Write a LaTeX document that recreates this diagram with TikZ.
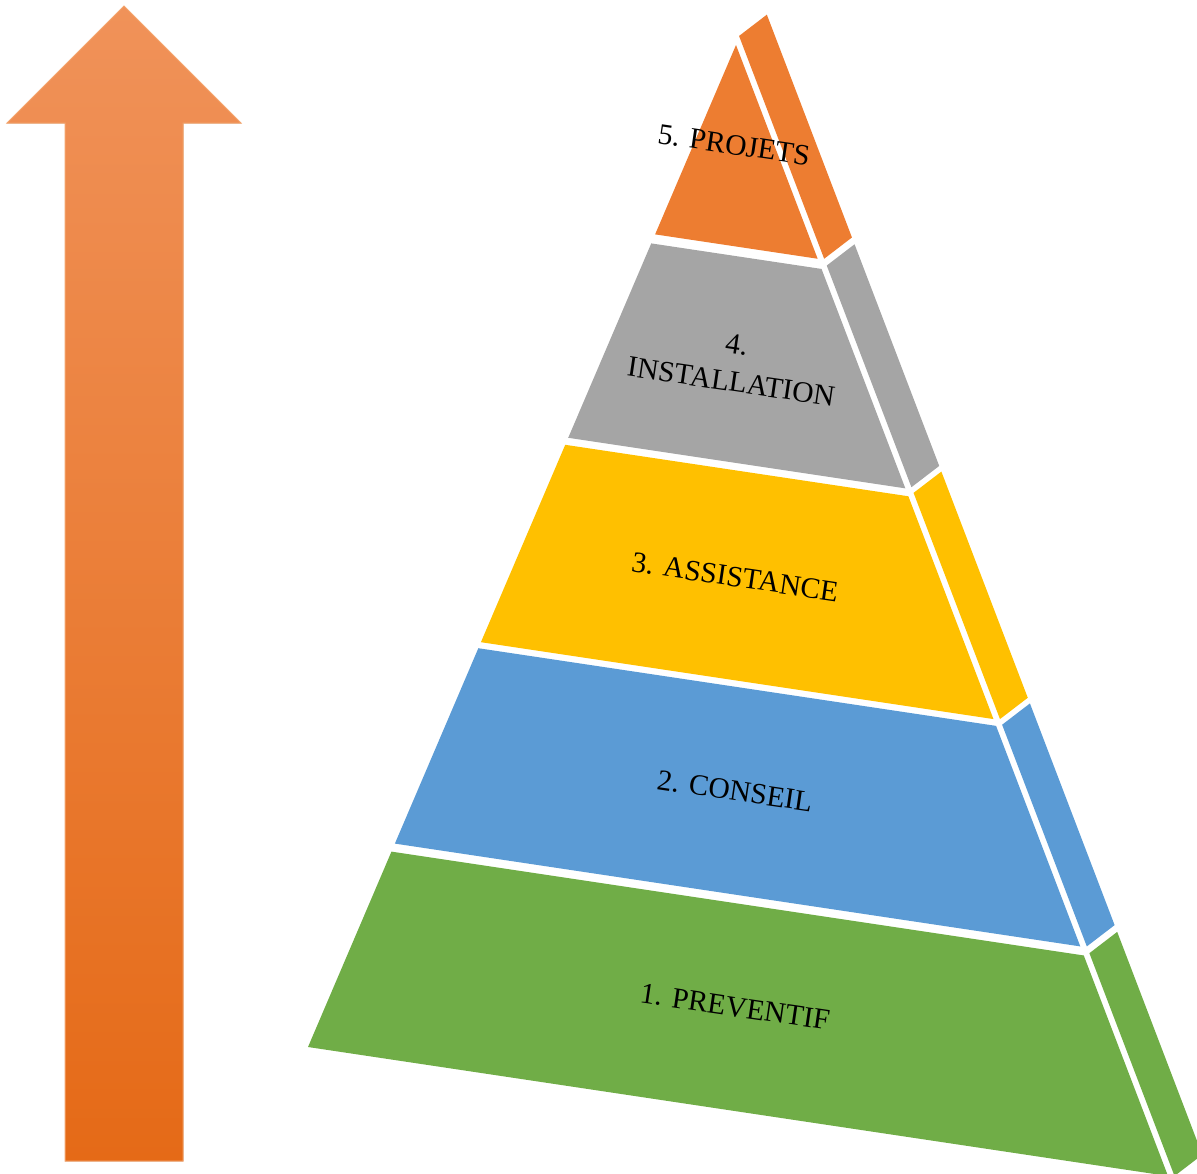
\documentclass[tikz,border=0pt]{standalone}
\usepackage{fontspec}
\usetikzlibrary{calc}
\newfontfamily\lblfont{Liberation Serif}
\definecolor{cOrange}{HTML}{ED7D31}
\definecolor{cGray}{HTML}{A5A5A5}
\definecolor{cYellow}{HTML}{FFC000}
\definecolor{cBlue}{HTML}{5B9BD5}
\definecolor{cGreen}{HTML}{70AD47}
\definecolor{arTop}{HTML}{F09259}
\definecolor{arBot}{HTML}{E56A17}
\definecolor{arEdge}{HTML}{F4A46C}
\tikzset{
  lbl/.style={font=\lblfont\fontsize{29.5}{38}\selectfont, text=black, rotate=-8.4, align=center, inner sep=0pt},
}
\begin{document}
\begin{tikzpicture}[x=1pt,y=-1pt]
\useasboundingbox (0,0) rectangle (1197,1173);
\clip (0,0) rectangle (1197,1173);
% arrow
\fill[top color=arTop, bottom color=arBot, draw=arEdge, line width=1pt]
  (124,6) -- (241,123) -- (183,123) -- (183,1161) -- (65,1161) -- (65,123) -- (7,123) -- cycle;
% pyramid geometry
\coordinate (A) at (736,45);
\coordinate (L) at (308,1047);
\coordinate (R) at (1168,1176);
\coordinate (g) at (6.5,0);
\coordinate (D) at (34.3,-21.3);
% front layers
\foreach \ta/\tb/\col in {0/0.189/cOrange, 0.198/0.392/cGray, 0.399/0.596/cYellow, 0.602/0.797/cBlue, 0.805/1/cGreen}{
  \fill[\col] ($(A)!\ta!(L)$) -- ($(A)!\ta!(R)$) -- ($(A)!\tb!(R)$) -- ($(A)!\tb!(L)$) -- cycle;
}
% side layers
\foreach \ta/\tb/\col in {-0.008/0.189/cOrange, 0.195/0.391/cGray, 0.396/0.596/cYellow, 0.601/0.797/cBlue, 0.803/1/cGreen}{
  \fill[\col] ($(A)!\ta!(R)+(g)$) -- ($(A)!\ta!(R)+(D)$) -- ($(A)!\tb!(R)+(D)$) -- ($(A)!\tb!(R)+(g)$) -- cycle;
}
% labels
\node[lbl] (l5) at (734,145) {5. PROJETS};
\node[lbl] (l4) at (734,363) {4.\\INSTALLATION};
\node[lbl] (l3) at (735,577) {3. ASSISTANCE};
\node[lbl] (l2) at (735,791) {2. CONSEIL};
\node[lbl] (l1) at (735,1007) {1. PREVENTIF};
\end{tikzpicture}
\end{document}
